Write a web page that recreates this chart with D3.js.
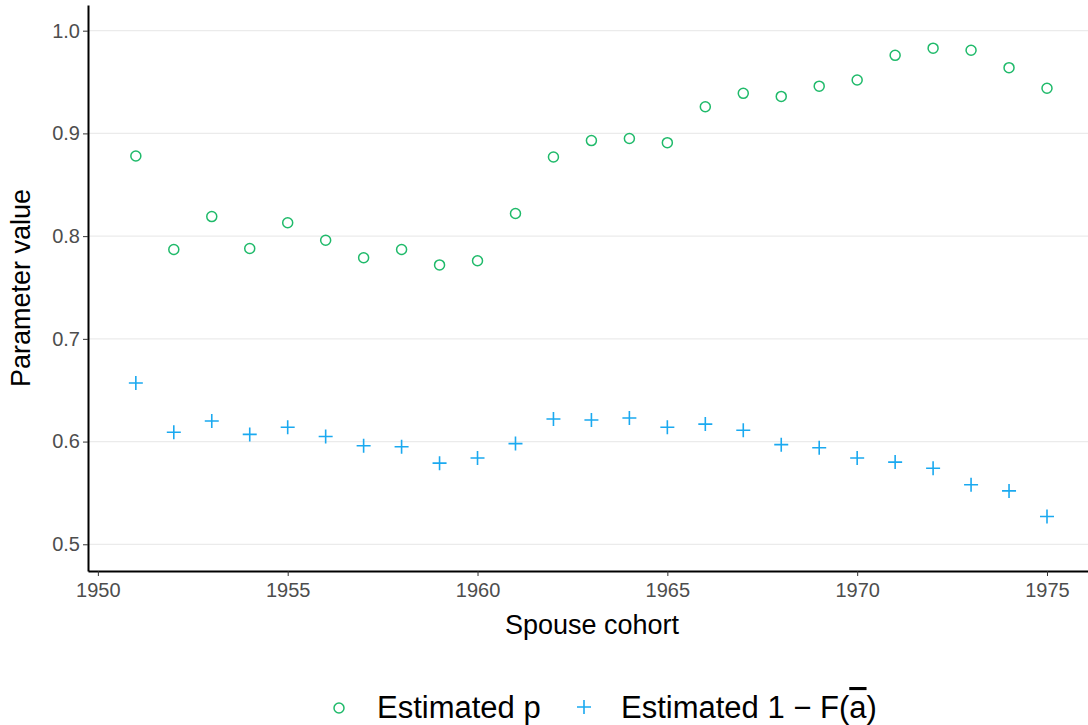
<!DOCTYPE html><html><head><meta charset="utf-8">
<script src="https://cdn.jsdelivr.net/npm/d3@7"></script>
<style>body{margin:0;background:#fff}text{font-family:"Liberation Sans",Arial,sans-serif}</style></head><body>
<svg id="c" width="1088" height="725"></svg>
<script>
const years=d3.range(1951,1976);
const pValues=[0.878,0.787,0.819,0.788,0.813,0.796,0.779,0.787,0.772,0.776,0.822,0.877,0.893,0.895,0.891,0.926,0.939,0.936,0.946,0.952,0.976,0.983,0.981,0.964,0.944];
const fValues=[0.657,0.609,0.620,0.607,0.614,0.605,0.596,0.595,0.579,0.584,0.598,0.622,0.621,0.623,0.614,0.617,0.611,0.597,0.594,0.584,0.580,0.574,0.558,0.552,0.527];
const xTicks=[1950,1955,1960,1965,1970,1975];
const yTicks=[0.5,0.6,0.7,0.8,0.9,1.0];
const svg=d3.select("#c");
const L=88,R=1088,T=5,B=571;
const x=d3.scaleLinear().domain([1949.74,1976.08]).range([L,R]);
const y=d3.scaleLinear().domain([0.474,1.025]).range([B,T]);
svg.append("g").selectAll("line").data(yTicks).join("line").attr("x1",L).attr("x2",R).attr("y1",d=>y(d)).attr("y2",d=>y(d)).attr("stroke","#ebebeb").attr("stroke-width",1.2);
const xa=svg.append("g").attr("transform",`translate(0,${B})`).call(d3.axisBottom(x).tickValues(xTicks).tickFormat(d3.format("d")).tickSize(5).tickSizeOuter(0));
const ya=svg.append("g").attr("transform",`translate(${L},0)`).call(d3.axisLeft(y).tickValues(yTicks).tickFormat(d3.format(".1f")).tickSize(5).tickSizeOuter(0));
[xa,ya].forEach(a=>{a.select(".domain").attr("stroke","#000").attr("stroke-width",2);a.selectAll(".tick line").attr("stroke","#333");a.selectAll("text").attr("fill","#4d4d4d").attr("font-size",20)});
xa.selectAll("text").attr("dy","0.9em");
svg.append("g").selectAll("circle").data(years).join("circle").attr("cx",d=>x(d)).attr("cy",(d,i)=>y(pValues[i])).attr("r",5).attr("fill","none").attr("stroke","#1fba6a").attr("stroke-width",1.5);
svg.append("g").selectAll("path").data(years).join("path").attr("transform",(d,i)=>`translate(${x(d)},${y(fValues[i])})`).attr("d","M-7,0H7M0,-7V7").attr("stroke","#1aa9f0").attr("stroke-width",1.6);
svg.append("text").attr("x",592).attr("y",634).attr("text-anchor","middle").attr("font-size",27).text("Spouse cohort");
svg.append("text").attr("transform","translate(30,288) rotate(-90)").attr("text-anchor","middle").attr("font-size",27).text("Parameter value");
const lg=svg.append("g");
lg.append("circle").attr("cx",339).attr("cy",708).attr("r",5).attr("fill","none").attr("stroke","#1fba6a").attr("stroke-width",1.5);
lg.append("text").attr("x",377).attr("y",718).attr("font-size",31).text("Estimated p");
lg.append("path").attr("transform","translate(584,707)").attr("d","M-7,0H7M0,-7V7").attr("stroke","#1aa9f0").attr("stroke-width",1.6);
const t=lg.append("text").attr("x",621).attr("y",718).attr("font-size",31);
t.append("tspan").text("Estimated 1 \u2212 F(");
t.append("tspan").attr("text-decoration","overline").text("a");
t.append("tspan").text(")");
</script></body></html>
